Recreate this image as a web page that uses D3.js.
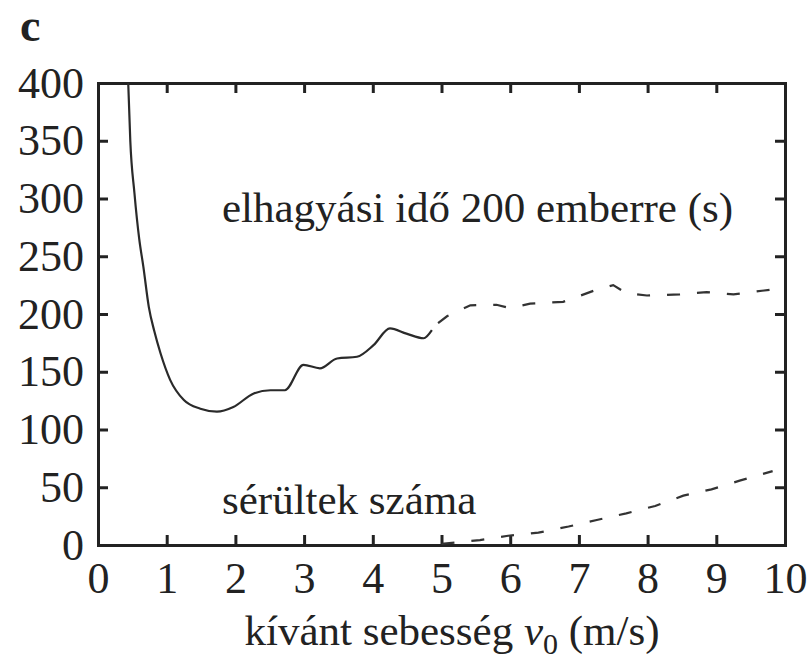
<!DOCTYPE html>
<html>
<head>
<meta charset="utf-8">
<script src="https://cdn.jsdelivr.net/npm/d3@7"></script>
<style>
  body { margin: 0; background: #fff; }
  svg text { font-family: "Liberation Serif", Tinos, "Times New Roman", serif; }
</style>
</head>
<body>
<svg></svg>
<script>
// evacuation time for 200 people, solid part
const solidSpeed = [0.44, 0.47, 0.53, 0.6, 0.66, 0.74, 0.82, 0.91, 1.05, 1.25, 1.49, 1.73, 1.97, 2.26, 2.51, 2.72, 2.99, 3.23, 3.48, 3.77, 4.01, 4.25, 4.49, 4.74, 4.86];
const solidTime  = [400, 350, 305, 265, 241, 206, 185, 166, 143, 125.5, 118, 115.5, 119.5, 131, 134, 134, 156, 153, 161.5, 163, 173, 187.5, 183, 179, 186];
// same curve, dashed part
const dashSpeed = [4.95, 5.08, 5.42, 5.8, 6.0, 6.29, 6.77, 7.21, 7.5, 7.69, 7.99, 8.47, 8.86, 9.25, 9.78];
const dashTime  = [192, 198, 207.5, 208, 205, 209, 210.5, 220, 225, 218, 216, 217, 219, 217, 221];
// number of injured
const injSpeed = [5.0, 5.56, 5.97, 6.41, 6.85, 7.26, 7.69, 8.11, 8.52, 8.93, 9.34, 9.82];
const injCount = [1, 4.3, 8, 10.7, 16, 21.6, 27.4, 33.8, 42.7, 48.2, 55.7, 64];

const xTicks = [0, 1, 2, 3, 4, 5, 6, 7, 8, 9, 10];
const yTicks = [0, 50, 100, 150, 200, 250, 300, 350, 400];

document.addEventListener("DOMContentLoaded", () => {
  const width = 808, height = 662;
  const left = 98, right = 785, top = 83, bottom = 545;
  const ink = "#222";

  const svg = d3.select("svg").attr("width", width).attr("height", height);

  const x = d3.scaleLinear().domain([0, 10]).range([left, right]);
  const y = d3.scaleLinear().domain([0, 400]).range([bottom, top]);

  // frame made of four axes, ticks pointing inward
  const axes = [
    [d3.axisBottom(x).tickValues(xTicks).tickPadding(17), bottom, 0],
    [d3.axisTop(x).tickValues(xTicks).tickFormat(""), top, 0],
    [d3.axisLeft(y).tickValues(yTicks).tickPadding(14), 0, left],
    [d3.axisRight(y).tickValues(yTicks).tickFormat(""), 0, right]
  ];
  axes.forEach(([ax, ty, tx]) => {
    const g = svg.append("g")
      .attr("transform", `translate(${tx},${ty})`)
      .call(ax.tickSizeInner(-10).tickSizeOuter(0))
      .attr("font-family", null);
    g.select(".domain").attr("stroke", ink).attr("stroke-width", 3).attr("stroke-linecap", "square");
    g.selectAll(".tick line").attr("stroke", ink).attr("stroke-width", 3);
    g.selectAll(".tick text")
      .attr("fill", ink)
      .attr("font-size", 44);
  });

  const line = d3.line()
    .x(d => x(d[0]))
    .y(d => y(d[1]))
    .curve(d3.curveMonotoneX);

  svg.append("path")
    .datum(d3.zip(solidSpeed, solidTime))
    .attr("d", line)
    .attr("fill", "none")
    .attr("stroke", "#2a2a2a")
    .attr("stroke-width", 2.2);

  svg.append("path")
    .datum(d3.zip(dashSpeed, dashTime))
    .attr("d", line.curve(d3.curveLinear))
    .attr("fill", "none")
    .attr("stroke", "#333")
    .attr("stroke-width", 2.2)
    .attr("stroke-dasharray", "13,17");

  svg.append("path")
    .datum(d3.zip(injSpeed, injCount))
    .attr("d", line)
    .attr("fill", "none")
    .attr("stroke", "#333")
    .attr("stroke-width", 2.2)
    .attr("stroke-dasharray", "13,17");

  // labels
  const label = (tx, ty, size) => svg.append("text")
    .attr("x", tx).attr("y", ty)
    .attr("fill", ink)
    .attr("font-size", size);

  label(20, 41, 46).attr("font-weight", "bold").text("c");
  label(222, 222, 43).text("elhagyási idő 200 emberre (s)");
  label(222, 514, 43).text("sérültek száma");

  const xt = label(452, 645, 43).attr("text-anchor", "middle");
  xt.append("tspan").text("kívánt sebesség ");
  xt.append("tspan").attr("font-style", "italic").text("v");
  xt.append("tspan").attr("font-size", 30).attr("dy", 9).text("0");
  xt.append("tspan").attr("dy", -9).text(" (m/s)");
});
</script>
</body>
</html>
